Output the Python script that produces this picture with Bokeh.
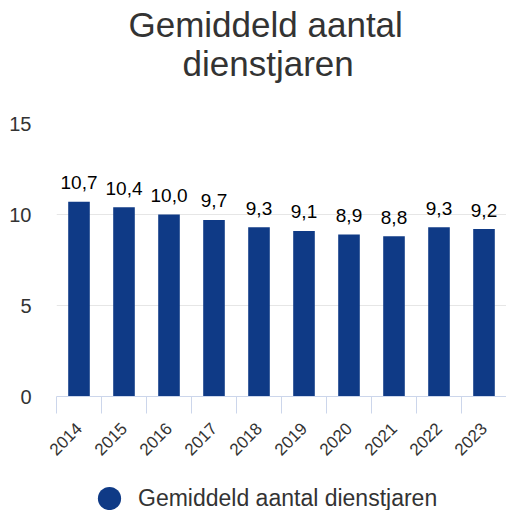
import math
from bokeh.plotting import figure
from bokeh.layouts import column
from bokeh.models import ColumnDataSource, FixedTicker, Range1d, Legend, LegendItem, Title
from bokeh.embed import file_html
from bokeh.resources import INLINE
from bokeh.core.properties import value

years = ["2014", "2015", "2016", "2017", "2018", "2019", "2020", "2021", "2022", "2023"]
values = [10.7, 10.4, 10.0, 9.7, 9.3, 9.1, 8.9, 8.8, 9.3, 9.2]
y_ticks = [0, 5, 10, 15]
series_name = "Gemiddeld aantal dienstjaren"
title_lines = ["Gemiddeld aantal", "dienstjaren"]

BAR = "#0f3a86"
FONT = "Liberation Sans"

xs = [i + 0.5 for i in range(len(years))]
labels = [f"{v:.1f}".replace(".", ",") for v in values]
src = ColumnDataSource(dict(x=xs, top=values, label=labels))

p = figure(width=506, height=486, output_backend="svg", toolbar_location=None,
           x_range=Range1d(0, len(years)), y_range=Range1d(0, 15),
           min_border_left=56, min_border_right=0, min_border_top=0, min_border_bottom=90)
p.outline_line_color = None
p.background_fill_color = "white"
p.border_fill_color = "white"
p.title.visible = False

# title: spacer closest to the frame, then second line, then first line
p.add_layout(Title(text=" ", text_font=FONT, text_font_size="35px", standoff=4), "above")
p.add_layout(Title(text=title_lines[1], align="left", offset=126, text_font=FONT, text_font_size="35px",
                   text_font_style="normal", text_color="#333333", standoff=-8), "above")
p.add_layout(Title(text=title_lines[0], align="left", offset=72, text_font=FONT, text_font_size="35px",
                   text_font_style="normal", text_color="#333333", standoff=4), "above")

bars = p.vbar(x="x", top="top", width=0.48, bottom=0, source=src, fill_color=BAR, line_color=None)
p.text(x="x", y="top", text="label", source=src, text_align="center", text_baseline="alphabetic",
       y_offset=-19, text_font=value(FONT), text_font_size="19px", text_color="#000000")

# y axis
p.yaxis.ticker = FixedTicker(ticks=y_ticks)
p.yaxis.axis_line_color = None
p.yaxis.major_tick_line_color = None
p.yaxis.minor_tick_line_color = None
p.yaxis.major_label_standoff = 19
p.yaxis.major_label_text_font = FONT
p.yaxis.major_label_text_font_size = "20px"
p.yaxis.major_label_text_color = "#333333"
p.ygrid.grid_line_color = "#e6e6e6"
p.ygrid.ticker = FixedTicker(ticks=y_ticks)
p.xgrid.grid_line_color = None

# x axis: labels at category centers, tick marks at boundaries
p.xaxis.ticker = FixedTicker(ticks=xs, minor_ticks=list(range(len(years) + 1)))
p.xaxis.major_label_overrides = {x: y for x, y in zip(xs, years)}
p.xaxis.major_tick_line_color = None
p.xaxis.major_tick_out = 0
p.xaxis.major_tick_in = 0
p.xaxis.minor_tick_line_color = "#ccd6eb"
p.xaxis.minor_tick_out = 17
p.xaxis.minor_tick_in = 0
p.xaxis.axis_line_color = "#ccd6eb"
p.xaxis.major_label_orientation = math.pi / 4
p.xaxis.major_label_standoff = 12
p.xaxis.major_label_text_font = FONT
p.xaxis.major_label_text_font_size = "17px"
p.xaxis.major_label_text_color = "#333333"

# legend in its own strip below the chart (no axes, frame fills the strip)
lf = figure(width=506, height=24, output_backend="svg", toolbar_location=None,
            x_range=Range1d(0, 1), y_range=Range1d(0, 1),
            x_axis_location=None, y_axis_location=None,
            min_border_left=0, min_border_right=0, min_border_top=0, min_border_bottom=0)
lf.grid.visible = False
lf.outline_line_color = None
dot = lf.scatter(x=[0.5], y=[float("nan")], marker="circle", size=23, fill_color=BAR, line_color=None)
legend = Legend(items=[LegendItem(label=series_name, renderers=[dot])], orientation="horizontal",
                location=(24, -17), border_line_color=None, background_fill_alpha=0,
                label_text_font=FONT, label_text_font_size="23px", label_text_color="#333333",
                glyph_width=58, glyph_height=58, label_standoff=0, padding=0, margin=0)
lf.add_layout(legend, "center")

open("out.html", "w").write(file_html(column(p, lf), INLINE))
